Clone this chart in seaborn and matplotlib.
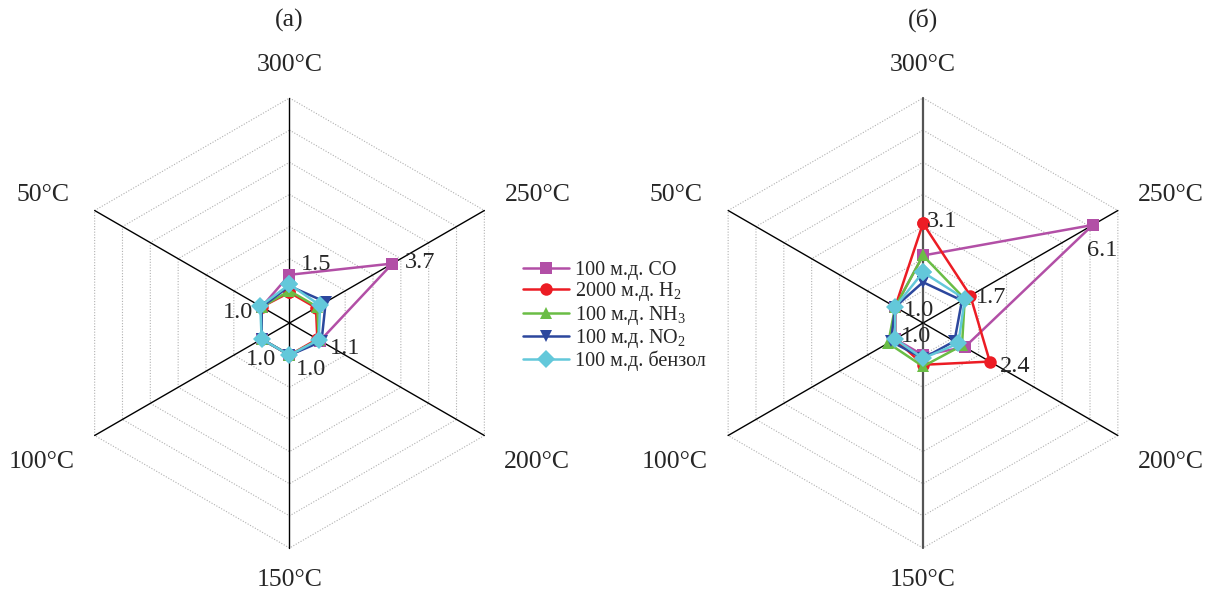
import numpy as np
import pandas as pd
import matplotlib
matplotlib.use("Agg")
import matplotlib.pyplot as plt
import seaborn as sns

# temperatures, clockwise from the top
temps = ["300°C", "250°C", "200°C", "150°C", "100°C", "50°C"]
gases = ["100 м.д. CO", "2000 м.д. H$_2$", "100 м.д. NH$_3$",
         "100 м.д. NO$_2$", "100 м.д. бензол"]

# panel (а)
co_a = [1.5, 3.7, 1.1, 1.0, 1.0, 1.0]
h2_a = [0.95, 0.95, 1.0, 1.0, 1.0, 1.0]
nh3_a = [1.0, 1.0, 1.05, 1.0, 1.0, 1.0]
no2_a = [1.15, 1.3, 1.15, 1.0, 1.0, 1.0]
benz_a = [1.2, 1.1, 1.05, 1.0, 1.0, 1.05]

# panel (б)
co_b = [2.1, 6.1, 1.5, 1.0, 1.0, 1.0]
h2_b = [3.1, 1.7, 2.4, 1.3, 1.0, 1.0]
nh3_b = [2.1, 1.5, 1.4, 1.35, 1.25, 1.0]
no2_b = [1.27, 1.4, 1.13, 1.1, 1.15, 1.0]
benz_b = [1.58, 1.5, 1.27, 1.1, 1.0, 1.0]

# value labels: (gas index, temperature index)
labels_a = [(0, 0), (0, 1), (0, 2), (0, 3), (0, 4), (0, 5)]
labels_b = [(1, 0), (0, 1), (1, 1), (1, 2), (4, 5), (4, 4)]

colors = ["#B24FA6", "#EC1C24", "#6ABD45", "#2C479D", "#63C8DA"]
markers = ["s", "o", "^", "v", "D"]

W, H = 1211, 596
UNIT = 225 / 7      # px per unit
LIM = 8.5
RMAX = 7

sns.set_theme(style="white")
plt.rcParams["font.family"] = ["Liberation Serif", "DejaVu Serif"]
plt.rcParams["mathtext.fontset"] = "custom"
plt.rcParams["mathtext.rm"] = "Liberation Serif"
plt.rcParams["mathtext.it"] = "Liberation Serif:italic"

angles = np.deg2rad(90 - 60 * np.arange(len(temps)))


def to_df(series):
    rows = []
    for gas, vals in zip(gases, series):
        vals = list(vals) + [vals[0]]
        angs = list(angles) + [angles[0]]
        for i, (v, a) in enumerate(zip(vals, angs)):
            rows.append({"gas": gas, "order": i,
                         "x": v * np.cos(a), "y": v * np.sin(a)})
    return pd.DataFrame(rows)


def draw_panel(ax, series, labels, title, vcolor="black", vlw=1.0):
    ax.set_xlim(-LIM, LIM)
    ax.set_ylim(-LIM, LIM)
    ax.axis("off")

    # hexagonal grid
    for r in range(1, RMAX + 1):
        hx = r * np.cos(np.append(angles, angles[0]))
        hy = r * np.sin(np.append(angles, angles[0]))
        ax.plot(hx, hy, color="#b0b0b0", lw=0.8, ls=(0, (1, 1.5)), zorder=0)
    for i, a in enumerate(angles):
        vert = i in (0, 3)
        ax.plot([0, RMAX * np.cos(a)], [0, RMAX * np.sin(a)],
                color=vcolor if vert else "black",
                lw=vlw if vert else 1.0, zorder=1)

    df = to_df(series)
    sns.lineplot(data=df, x="x", y="y", hue="gas", style="gas",
                 hue_order=gases, style_order=gases,
                 palette=dict(zip(gases, colors)),
                 markers=dict(zip(gases, markers)), dashes=False,
                 sort=False, estimator=None, ax=ax,
                 lw=1.8, markersize=9, markeredgewidth=0, zorder=3)

    # category labels (offsets in px, y up)
    offs = [(0, 33), (53, 15.5), (53, -26.5), (0, -32), (-53, -26.5), (-52, 15.5)]
    for t, a, (dx, dy) in zip(temps, angles, offs):
        ax.annotate(t, (RMAX * np.cos(a), RMAX * np.sin(a)),
                    xytext=(dx * 0.72, dy * 0.72), textcoords="offset points",
                    ha="center", va="center", fontsize=18.5, annotation_clip=False)

    # value labels (offsets in px, y down)
    for (g, t), (dx, dy) in labels:
        v = series[g][t]
        ax.annotate(f"{v:.1f}", (v * np.cos(angles[t]), v * np.sin(angles[t])),
                    xytext=(dx * 0.72, -dy * 0.72), textcoords="offset points",
                    ha="center", va="center", fontsize=17.5, zorder=5,
                    annotation_clip=False)

    ax.annotate(title, (0, RMAX), xytext=(0, 78 * 0.72),
                textcoords="offset points", ha="center", va="center",
                fontsize=18.5, annotation_clip=False)


fig = plt.figure(figsize=(W / 100, H / 100), dpi=100)
half = LIM * UNIT
centers = [(289.5, 323), (923, 323)]
axes = []
for cx, cy in centers:
    axes.append(fig.add_axes([(cx - half) / W, (H - cy - half) / H,
                              2 * half / W, 2 * half / H]))

series_a = [co_a, h2_a, nh3_a, no2_a, benz_a]
series_b = [co_b, h2_b, nh3_b, no2_b, benz_b]
offs_a = [(27, -10), (28, -1), (25, 7.5), (21, 14), (-1, 20.5), (-24, 6)]
offs_b = [(19.5, -1.5), (9, 26), (21, 1.5), (25, 5), (24, 3.5), (21, -2.5)]

draw_panel(axes[0], series_a, list(zip(labels_a, offs_a)), "(а)")
draw_panel(axes[1], series_b, list(zip(labels_b, offs_b)), "(б)",
           vcolor="#555555", vlw=1.6)

handles, names = axes[0].get_legend_handles_labels()
for ax in axes:
    if ax.get_legend() is not None:
        ax.get_legend().remove()
fig.legend(handles, names, loc="center left",
           bbox_to_anchor=(515 / W, 1 - 316 / H), frameon=False,
           fontsize=14.5, handlelength=2.3, handletextpad=0.3,
           labelspacing=0.02, borderaxespad=0)

fig.savefig("out.png", dpi=100)
